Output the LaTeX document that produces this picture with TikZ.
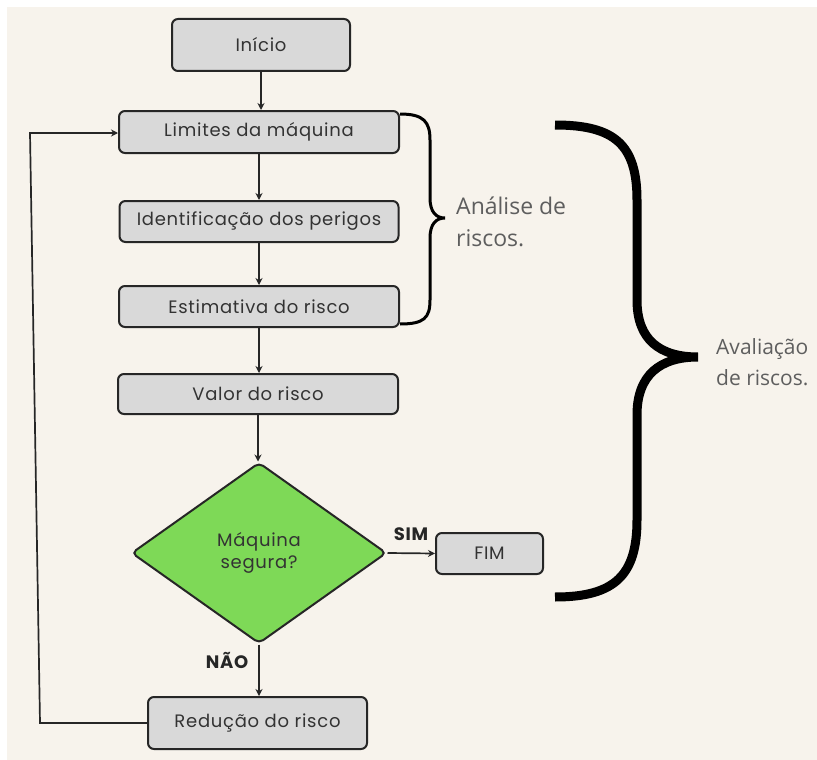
\documentclass[tikz,border=0pt]{standalone}
\usepackage{fontspec}
\setmainfont{Poppins}
\newfontfamily\boxfont[LetterSpace=4]{Poppins}
\newfontfamily\opensans{Open Sans}
\usetikzlibrary{shapes.geometric,arrows.meta}
\definecolor{bg}{HTML}{F7F3EC}
\definecolor{boxfill}{HTML}{D9D9D9}
\definecolor{edge}{HTML}{262626}
\definecolor{dgreen}{HTML}{7ED957}
\definecolor{txt}{HTML}{333333}
\definecolor{gtxt}{HTML}{5E5E5E}
\begin{document}
\begin{tikzpicture}[x=1pt,y=-1pt,
  box/.style={draw=edge, fill=boxfill, line width=2pt, rounded corners=6pt, text=txt,
    font=\boxfont\fontsize{18}{21}\selectfont, inner sep=0pt},
  decision/.style={diamond, draw=edge, fill=dgreen, line width=2pt, rounded corners=5pt,
    inner sep=0pt, align=center, text=txt, font=\boxfont\fontsize{18}{22}\selectfont},
  arr/.style={draw=edge, line width=1.7pt, -{Stealth[length=7pt,width=7pt]}},
  lbl/.style={font=\boxfont\bfseries\fontsize{18}{18}\selectfont, text=black!85, anchor=base, inner sep=0pt},
  bracetext/.style={font=\opensans\fontsize{23}{32}\selectfont, text=gtxt, align=left, anchor=west, inner sep=0pt},
  brace/.style={draw=black, line cap=butt}
]
\useasboundingbox (0,0) rectangle (817,760);
\fill[white] (0,0) rectangle (817,760);
\fill[bg] (7,7) rectangle (817,760);

\node[box, minimum width=178pt, minimum height=52pt] (ini) at (261,45) {Início};
\node[box, minimum width=280pt, minimum height=42pt] (lim) at (259,132) {Limites da máquina};
\node[box, minimum width=279pt, minimum height=41pt] (ide) at (259,221.5) {Identificação dos perigos};
\node[box, minimum width=280pt, minimum height=41pt] (est) at (259,306.5) {Estimativa do risco};
\node[box, minimum width=280pt, minimum height=40pt] (val) at (258,394) {Valor do risco};
\node[decision, minimum width=255pt, minimum height=181pt] (dec) at (259,553) {Máquina\\segura?};
\node[box, minimum width=107pt, minimum height=41pt] (fim) at (489.5,553.5) {FIM};
\node[box, minimum width=219pt, minimum height=52pt] (red) at (257.5,723) {Redução do risco};

\draw[arr] (ini.south) -- (ini.south |- lim.north);
\draw[arr] (lim.south) -- (lim.south |- ide.north);
\draw[arr] (ide.south) -- (ide.south |- est.north);
\draw[arr] (est.south) -- (est.south |- val.north);
\draw[arr] (val.south) -- (val.south |- dec.north);
\draw[arr] (dec.east) -- (fim.west);
\draw[arr] (dec.south) -- (dec.south |- red.north);

\coordinate (c1) at (40,723);
\coordinate (c2) at (30,133);
\draw[arr] (red.west) -- (c1) -- (c2) -- (lim.west |- c2);

\node[lbl] (sim) at (411,540) {SIM};
\node[lbl] (nao) at (227,668) {NÃO};

% small brace
\draw[brace, line width=3pt] (400,114) .. controls (424,114) and (430,122) .. (430,140)
  -- (430,198) .. controls (430,212) and (436,218) .. (445,218)
  .. controls (436,218) and (430,224) .. (430,238)
  -- (430,300) .. controls (430,318) and (424,324) .. (400,324);
\node[bracetext] (an) at (456,222) {Análise de\\riscos.};

% large brace
\draw[brace, line width=9pt] (555,125) .. controls (615,125) and (637,145) .. (637,200)
  -- (637,300) .. controls (637,340) and (660,357) .. (698,357)
  .. controls (660,357) and (637,375) .. (637,415)
  -- (637,520) .. controls (637,575) and (615,597) .. (555,597);
\node[bracetext, font=\opensans\fontsize{21}{31}\selectfont] (av) at (716,362) {Avaliação\\de riscos.};
\end{tikzpicture}
\end{document}
